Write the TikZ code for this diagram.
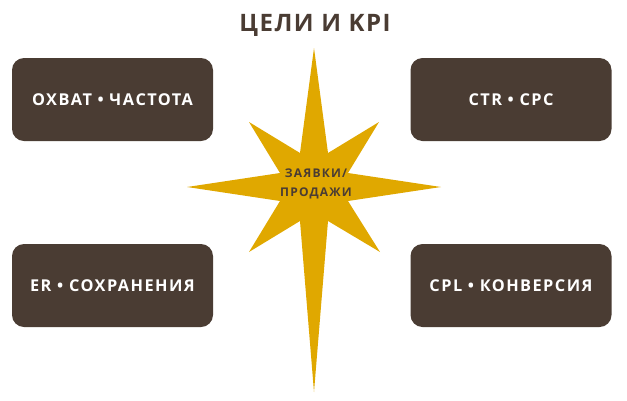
\documentclass[tikz,border=0pt]{standalone}
\usepackage{fontspec}
\setmainfont{Open Sans}
\newfontfamily\boxfont[LetterSpace=9]{Open Sans Bold}
\newfontfamily\titlefont[LetterSpace=6]{Open Sans Bold}
\newfontfamily\starfont[LetterSpace=10]{Open Sans Bold}
\definecolor{brownbox}{HTML}{4A3C33}
\definecolor{goldstar}{HTML}{E0A800}
\tikzset{
  kpibox/.style={fill=brownbox, draw=none, rounded corners=12pt, minimum width=201pt, minimum height=83pt, text=white, font=\boxfont\fontsize{16.3}{18}\selectfont, inner sep=0pt},
  titletext/.style={text=brownbox, font=\titlefont\fontsize{24}{26}\selectfont},
  startext/.style={text=brownbox, font=\starfont\fontsize{12}{18.5}\selectfont, align=center}
}
\begin{document}
\begin{tikzpicture}[x=1pt,y=-1pt]
\useasboundingbox (0,0) rectangle (627,400);
\node[titletext] (title) at (315,25) {ЦЕЛИ И KPI};
\node[kpibox] (b1) at (112.5,99.5) {ОХВАТ • ЧАСТОТА};
\node[kpibox] (b2) at (511,99.5) {CTR • CPC};
\node[kpibox] (b3) at (112.5,285.5) {ER • СОХРАНЕНИЯ};
\node[kpibox] (b4) at (511,285.5) {CPL • КОНВЕРСИЯ};
\begin{scope}[shift={(314,187)}]
\fill[goldstar] (0,-139) -- (14,-34) -- (65,-65) -- (34,-14) -- (127,0) -- (34,14) -- (66,65) -- (14,34) -- (0,205) -- (-14,34) -- (-65,65) -- (-34,14) -- (-127,0) -- (-34,-14) -- (-65,-65) -- (-14,-34) -- cycle;
\end{scope}
\node[startext] (star) at (316,184) {ЗАЯВКИ/\\ПРОДАЖИ};
\end{tikzpicture}
\end{document}
